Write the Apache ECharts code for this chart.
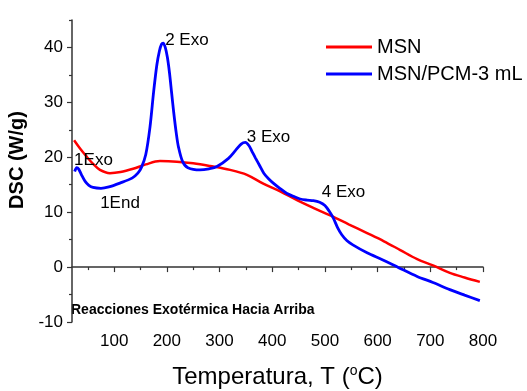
<!DOCTYPE html>
<html>
<head>
<meta charset="utf-8">
<script src="https://cdn.jsdelivr.net/npm/echarts@6/dist/echarts.min.js"></script>
<style>html,body{margin:0;padding:0;background:#fff}#c{width:527px;height:391px}</style>
</head>
<body>
<div id="c"></div>
<script>
const xTicks = [100, 200, 300, 400, 500, 600, 700, 800];
const xMinorTicks = [50, 150, 250, 350, 450, 550, 650, 750];
const yTicks = [-10, 0, 10, 20, 30, 40];
const yMinorTicks = [-5, 5, 15, 25, 35, 45];

const msn = [[24,23.1],[36,21.5],[48,20.1],[60,18.8],[73,17.7],[92,17.1],[112,17.3],[136,17.9],[160,18.7],[187,19.3],[219,19.2],[250,18.9],[282,18.4],[320,17.7],[352,16.8],[383,15.2],[415,13.8],[447,12.2],[480,10.7],[510,9.4],[545,7.8],[580,6.2],[612,4.7],[643,3.1],[675,1.45],[705,0.3],[737,-1.05],[765,-1.9],[794,-2.7]];

const msnPcm = [[25,17.4],[29,18.1],[33,17.8],[38,16.8],[45,15.6],[52,14.9],[60,14.5],[75,14.35],[90,14.6],[111,15.3],[134,16.2],[145,17.1],[152,18.2],[160,20.5],[168,25.5],[175,32],[181,36.8],[186,39.4],[190,40.6],[193,40.8],[197,40.0],[201,38.2],[205,35.4],[209,31.8],[213,28.2],[218,24.3],[222,21.9],[230,19.2],[240,18.1],[263,17.7],[280,17.9],[295,18.3],[317,19.8],[330,21.2],[341,22.4],[349,22.7],[356,22.1],[362,21.0],[368,19.9],[376,18.5],[384,17.1],[393,16.1],[402,15.3],[415,14.3],[428,13.4],[440,12.9],[453,12.4],[466,12.2],[478,12.1],[490,11.8],[500,11.2],[508,10.2],[516,8.9],[524,7.2],[532,5.9],[542,4.8],[553,4.05],[580,2.6],[610,1.3],[640,-0.1],[675,-1.7],[705,-2.8],[737,-4.1],[765,-5.1],[794,-6.1]];

const annotations = [
  {text: '2 Exo', x: 196.8, y: 41.3},
  {text: '3 Exo', x: 351.8, y: 23.7},
  {text: '4 Exo', x: 494, y: 13.6},
  {text: '1Exo', x: 24, y: 19.4},
  {text: '1End', x: 73.4, y: 11.7}
];
const note = 'Reacciones Exotérmica Hacia Arriba';

const FONT = 'Liberation Sans, Arial, sans-serif';
const axisColor = '#333';

const chart = echarts.init(document.getElementById('c'), null, {renderer: 'canvas'});
chart.setOption({
  animation: false,
  backgroundColor: '#fff',
  textStyle: {fontFamily: FONT},
  grid: {left: 72, top: 20, right: 44, bottom: 69, containLabel: false, outerBoundsMode: 'none'},
  legend: {
    orient: 'vertical', left: 321, top: 31,
    icon: 'rect', itemWidth: 46, itemHeight: 3, itemGap: 5,
    textStyle: {fontSize: 20, color: '#000', fontFamily: FONT, lineHeight: 22},
    data: ['MSN', 'MSN/PCM-3 mL']
  },
  xAxis: [{
    type: 'value', min: 20, max: 800, position: 'bottom',
    name: 'Temperatura, T ({sup|o}C)', nameLocation: 'middle', nameGap: 42,
    nameTextStyle: {fontSize: 24, color: '#000', fontFamily: FONT,
      rich: {sup: {fontSize: 14, color: '#000', fontFamily: FONT, padding: [0, 0, 13, 0]}}},
    axisLine: {show: true, lineStyle: {color: axisColor, width: 1.5}},
    axisTick: {show: true, inside: false, length: 5, customValues: xTicks, lineStyle: {color: axisColor, width: 1.2}},
    axisLabel: {customValues: xTicks, fontSize: 17, color: '#000', margin: 11, fontFamily: FONT},
    splitLine: {show: false}
  }, {
    type: 'value', min: 20, max: 800, position: 'bottom', gridIndex: 0,
    axisLine: {show: false},
    axisTick: {show: true, inside: false, length: 3, customValues: xMinorTicks, lineStyle: {color: axisColor, width: 1.2}},
    axisLabel: {show: false},
    splitLine: {show: false}
  }],
  yAxis: [{
    type: 'value', min: -10, max: 45, position: 'left',
    name: 'DSC (W/g)', nameLocation: 'middle', nameRotate: 90, nameGap: 38,
    nameTextStyle: {fontSize: 20, fontWeight: 'bold', color: '#000', fontFamily: FONT, padding: [0, 0, 0, 22]},
    axisLine: {show: true, lineStyle: {color: axisColor, width: 1.5}},
    axisTick: {show: true, inside: false, length: 5, customValues: yTicks, lineStyle: {color: axisColor, width: 1.2}},
    axisLabel: {customValues: yTicks, fontSize: 17, color: '#000', margin: 9, fontFamily: FONT},
    splitLine: {show: false}
  }, {
    type: 'value', min: -10, max: 45, position: 'left',
    axisLine: {show: false},
    axisTick: {show: true, inside: false, length: 3, customValues: yMinorTicks, lineStyle: {color: axisColor, width: 1.2}},
    axisLabel: {show: false},
    splitLine: {show: false}
  }],
  series: [{
    name: 'MSN', type: 'line', data: msn, smooth: 0.35, symbol: 'none',
    lineStyle: {color: '#ff0000', width: 2.5}, itemStyle: {color: '#ff0000'}, z: 2
  }, {
    name: 'MSN/PCM-3 mL', type: 'line', data: msnPcm, smooth: 0.3, symbol: 'none',
    lineStyle: {color: '#0000ff', width: 2.8}, itemStyle: {color: '#0000ff'}, z: 3,
    markPoint: {
      symbol: 'circle', symbolSize: 0, silent: true,
      label: {show: true, position: 'right', distance: 0, color: '#000', fontSize: 17, fontFamily: FONT,
        formatter: p => p.name},
      data: annotations.map(a => ({name: a.text, coord: [a.x, a.y], value: a.text}))
    }
  }],
  graphic: [{
    type: 'text', left: 71, top: 303,
    style: {text: note, fontSize: 14, fontWeight: 'bold', fill: '#000', fontFamily: FONT}
  }]
});
</script>
</body>
</html>
